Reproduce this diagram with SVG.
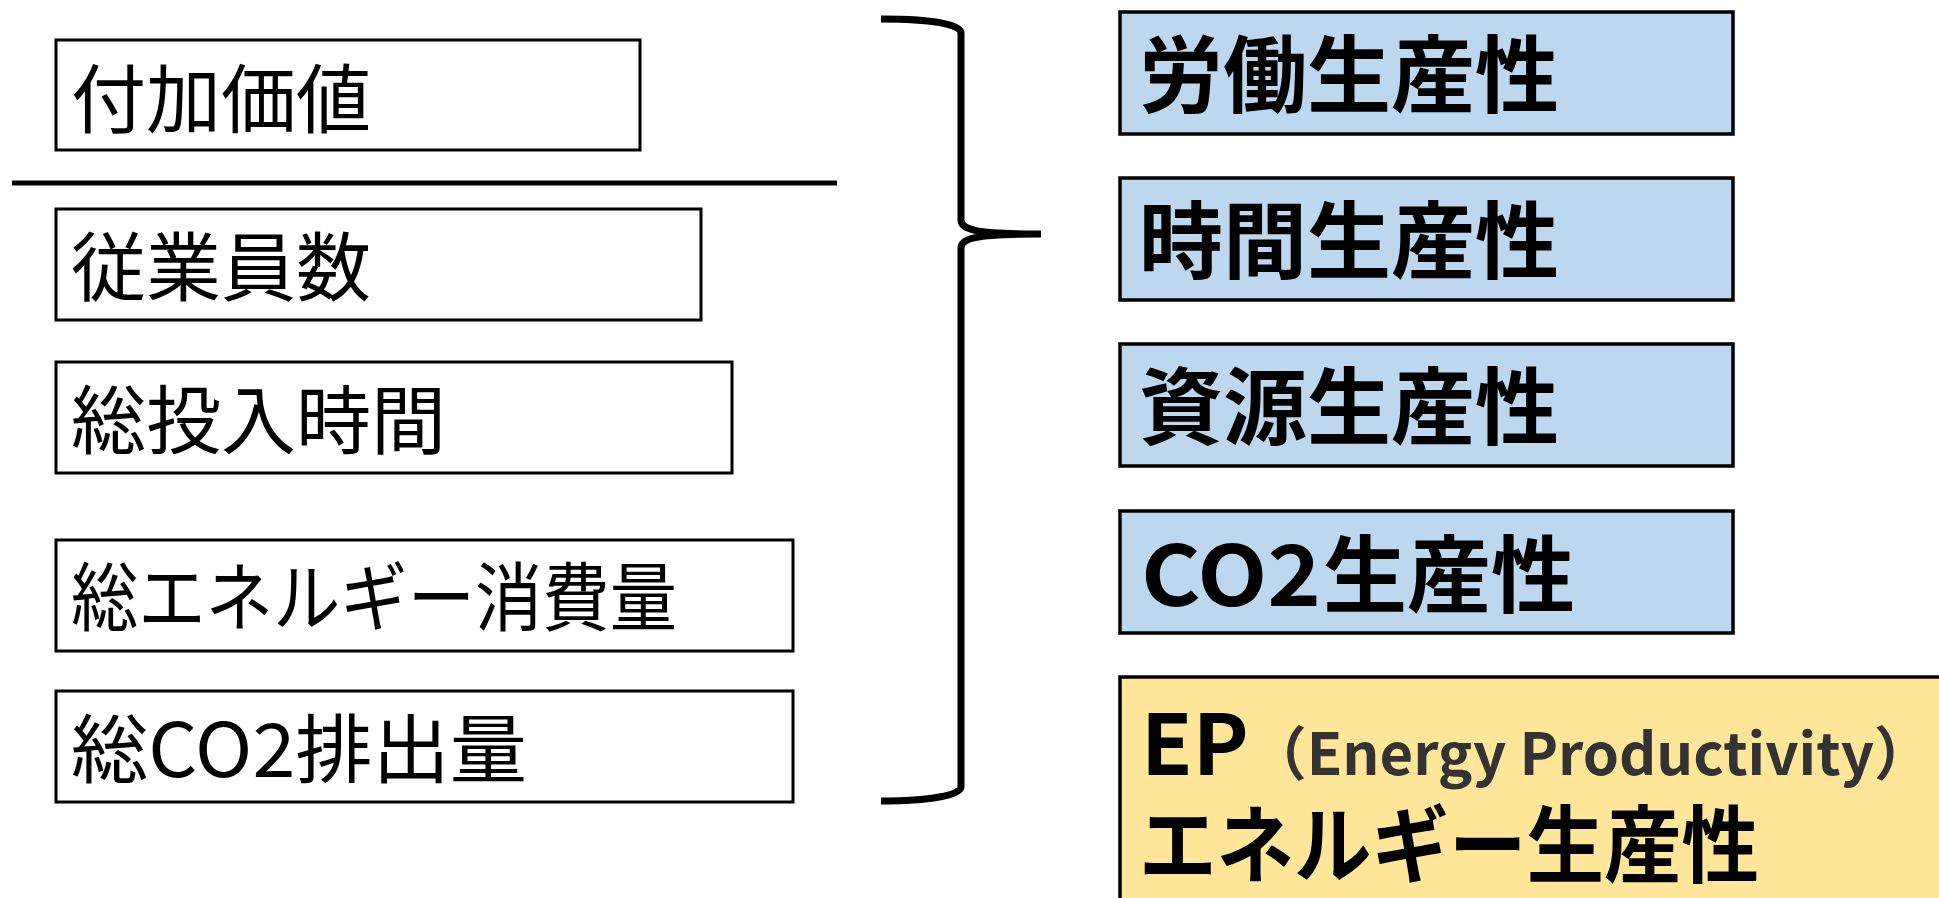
<svg xmlns="http://www.w3.org/2000/svg" width="1939" height="898" viewBox="0 0 1939 898">
<style>
.box{fill:#ffffff;stroke:#000;stroke-width:3}
.blue{fill:#BDD7EE;stroke:#000;stroke-width:3.5}
.yellow{fill:#FFE699;stroke:#000;stroke-width:3.5}
.lt{font-family:"Noto Sans CJK JP","Noto Sans",sans-serif;font-size:75px;fill:#000}
.rt{font-family:"Noto Sans CJK JP","Noto Sans",sans-serif;font-size:84px;font-weight:bold;fill:#000}
.sub{font-size:58px;fill:#333333}
</style>
<rect width="1939" height="898" fill="#ffffff"/>
<g id="n-value"><rect class="box" x="56" y="40" width="584" height="110"/><text class="lt" x="71" y="127">付加価値</text></g>
<g id="n-employees"><rect class="box" x="56" y="209" width="645" height="111"/><text class="lt" x="71" y="295">従業員数</text></g>
<g id="n-hours"><rect class="box" x="56" y="362" width="676" height="111"/><text class="lt" x="71" y="448">総投入時間</text></g>
<g id="n-energy"><rect class="box" x="56" y="540" width="737" height="111"/><text class="lt" x="71" y="625" textLength="606" lengthAdjust="spacingAndGlyphs">総エネルギー消費量</text></g>
<g id="n-co2"><rect class="box" x="56" y="691" width="737" height="111"/><text class="lt" x="71" y="777" textLength="456" lengthAdjust="spacingAndGlyphs">総CO2排出量</text></g>
<g id="connectors">
<line x1="12" y1="183" x2="837" y2="183" stroke="#000" stroke-width="5"/>
<path d="M881,19 C930,19 961,24 961,33 L961,220 C961,229 972,234 1041,234 C972,234 961,239 961,248 L961,787 C961,795 930,801 881,801" fill="none" stroke="#000" stroke-width="7"/>
</g>
<g id="n-labor"><rect class="blue" x="1120" y="12" width="613" height="122"/><text class="rt" x="1139" y="106">労働生産性</text></g>
<g id="n-time"><rect class="blue" x="1120" y="178" width="613" height="122"/><text class="rt" x="1139" y="272">時間生産性</text></g>
<g id="n-resource"><rect class="blue" x="1120" y="344" width="613" height="122"/><text class="rt" x="1139" y="438">資源生産性</text></g>
<g id="n-co2p"><rect class="blue" x="1120" y="511" width="613" height="122"/><text class="rt" x="1141" y="606"><tspan textLength="180" lengthAdjust="spacingAndGlyphs">CO2</tspan><tspan x="1323">生産性</tspan></text></g>
<g id="n-ep"><rect class="yellow" x="1120" y="677" width="840" height="240"/>
<text class="rt" x="1141" y="775" font-size="86">EP<tspan class="sub">（Energy Productivity）</tspan></text>
<text class="rt" x="1139" y="876" textLength="620" lengthAdjust="spacingAndGlyphs">エネルギー生産性</text></g>
</svg>
